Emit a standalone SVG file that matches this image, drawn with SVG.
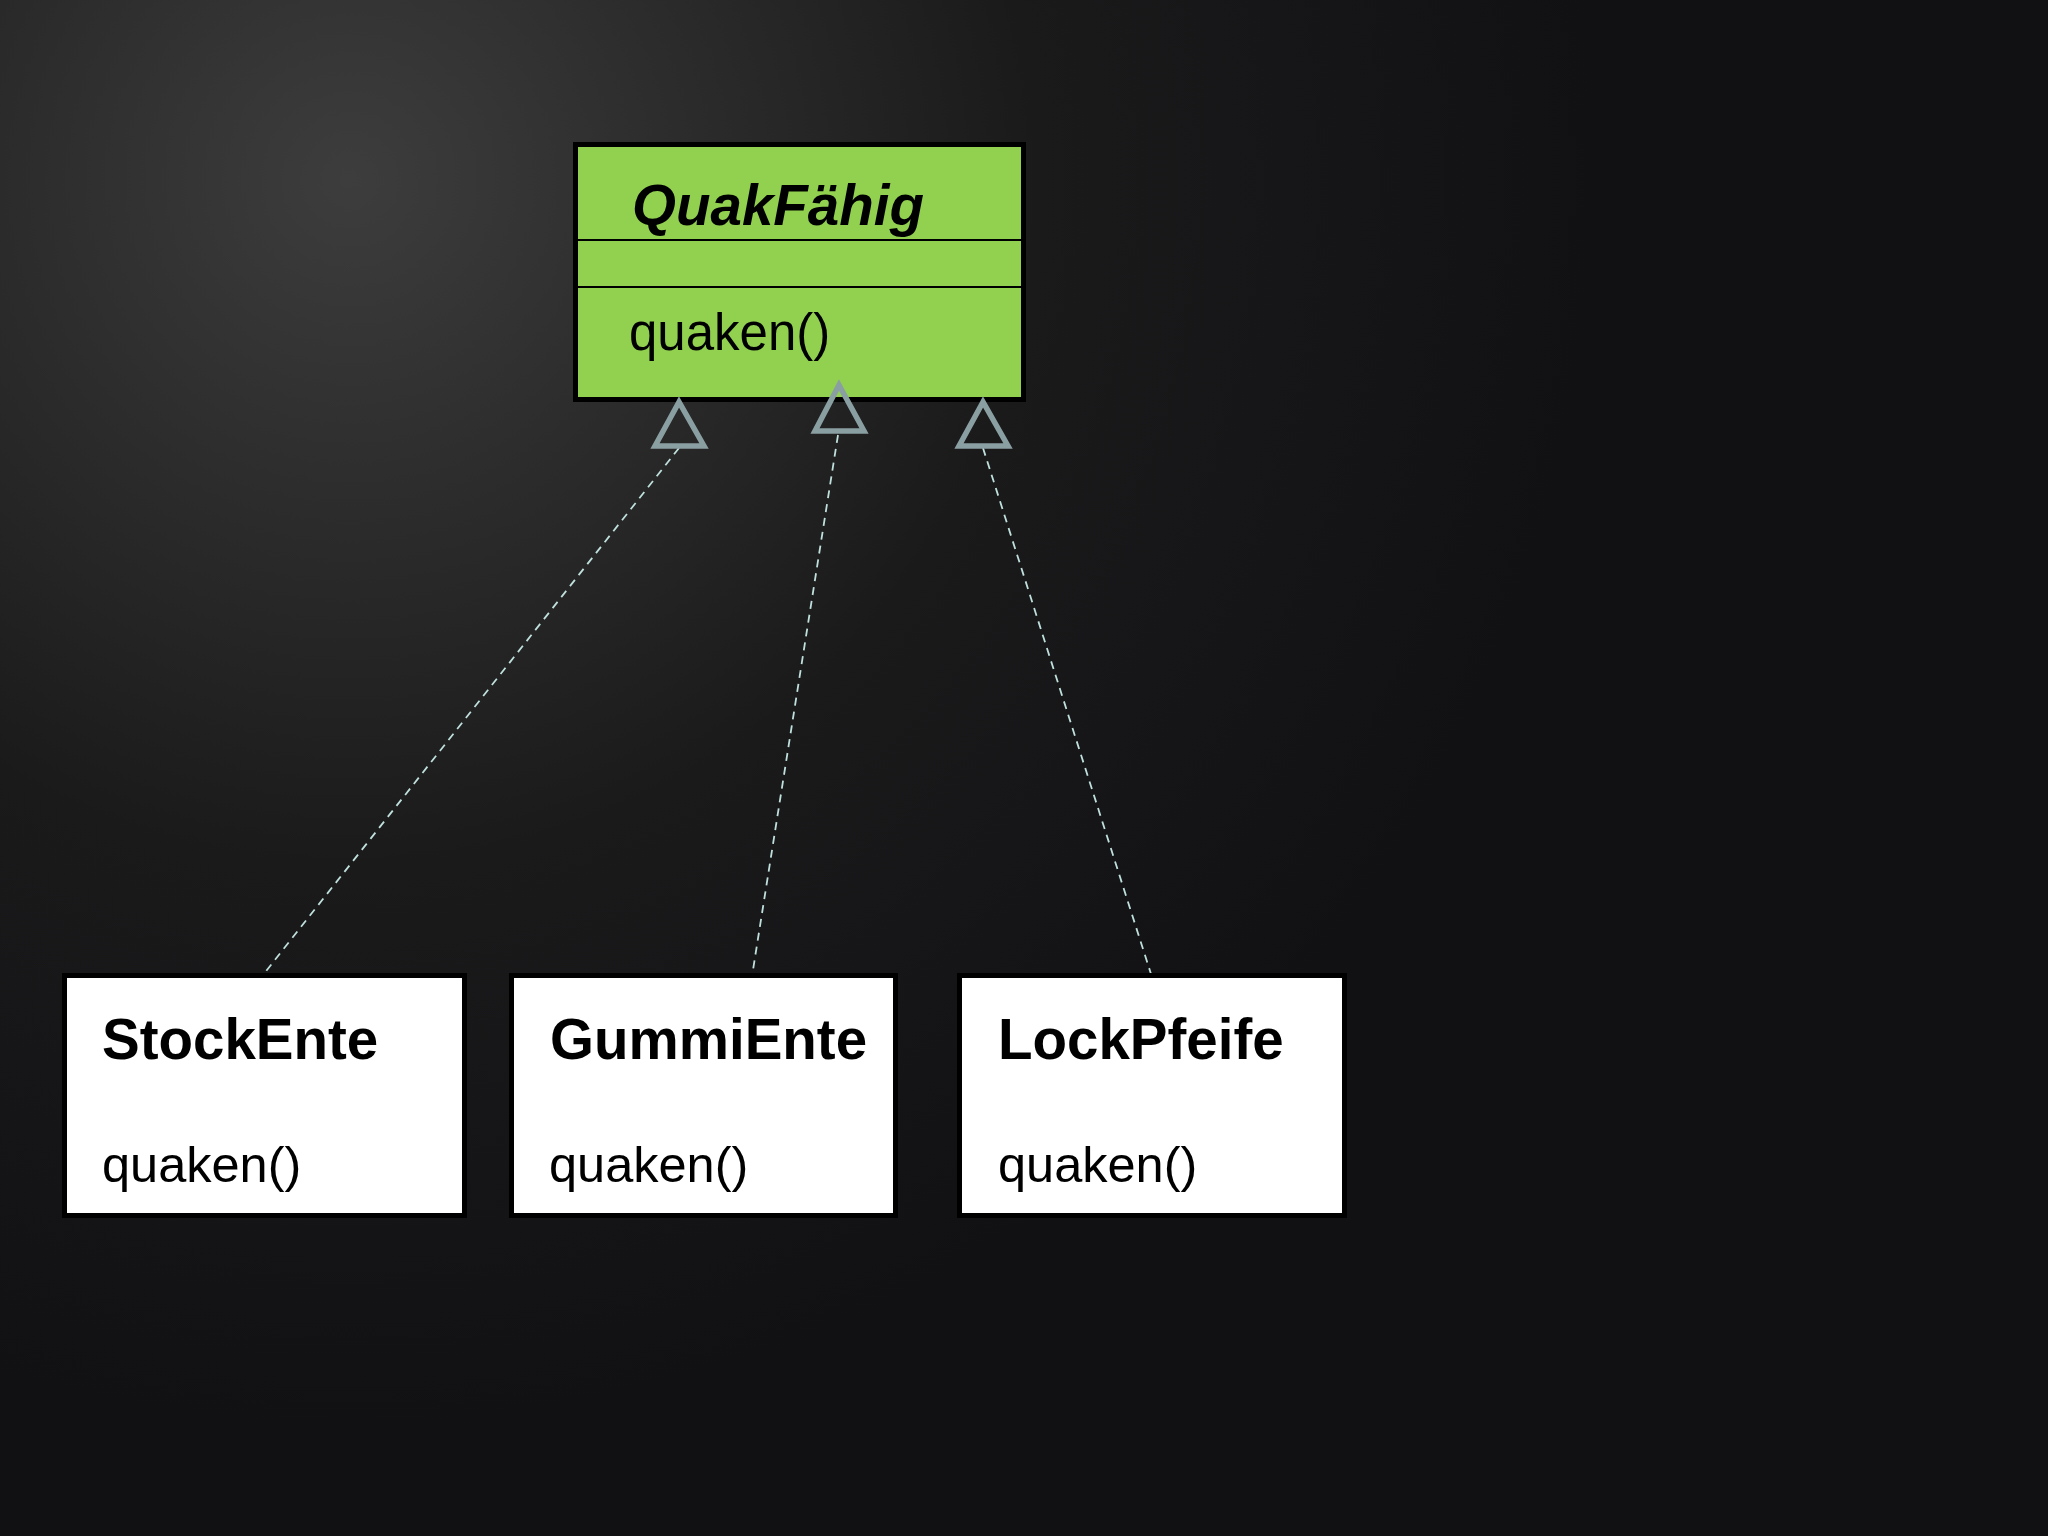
<svg xmlns="http://www.w3.org/2000/svg" width="2048" height="1536" viewBox="0 0 2048 1536">
  <defs>
    <radialGradient id="bg" gradientUnits="userSpaceOnUse" cx="350" cy="180" r="1250">
      <stop offset="0" stop-color="#3d3d3d"/>
      <stop offset="0.25" stop-color="#2d2d2d"/>
      <stop offset="0.55" stop-color="#1a1a1b"/>
      <stop offset="1" stop-color="#111013"/>
    </radialGradient>
  </defs>
  <style>
    .box { stroke: #000; stroke-width: 5; }
    .green { fill: #92d050; }
    .white { fill: #ffffff; }
    .div { stroke: #000; stroke-width: 2; }
    .title { font-family: "Liberation Sans", Arial, sans-serif; font-weight: bold; font-size: 56.5px; fill: #000; }
    .ital { font-style: italic; }
    .op { font-family: "Liberation Sans", Arial, sans-serif; font-size: 50.5px; fill: #000; }
    .dash { stroke: #bfe0dc; stroke-width: 1.8; stroke-dasharray: 8 6; fill: none; }
    .tri { fill: none; stroke: #8a9fa1; stroke-width: 5.5; stroke-linejoin: miter; }
  </style>
  <rect width="2048" height="1536" fill="url(#bg)"/>

  <g id="connectors">
    <line class="dash" x1="679" y1="448" x2="263" y2="975"/>
    <line class="dash" x1="838" y1="435" x2="753" y2="970"/>
    <line class="dash" x1="983" y1="448" x2="1151" y2="974"/>
  </g>

  <g id="QuakFaehig">
    <rect class="box green" x="575.5" y="144.5" width="448" height="255"/>
    <line class="div" x1="578" y1="240" x2="1021" y2="240"/>
    <line class="div" x1="578" y1="287" x2="1021" y2="287"/>
    <text class="title ital" x="632" y="225">QuakFähig</text>
    <text class="op" x="629" y="350" style="font-size:51px">quaken()</text>
  </g>

  <g id="arrowheads">
    <polygon class="tri" points="679,402 655,446 704,446"/>
    <polygon class="tri" points="839,385 815,431 864,431"/>
    <polygon class="tri" points="983,402 959,446 1008,446"/>
  </g>

  <g id="StockEnte">
    <rect class="box white" x="64.5" y="975.5" width="400" height="240"/>
    <text class="title" x="102" y="1059">StockEnte</text>
    <text class="op" x="102" y="1182">quaken()</text>
  </g>

  <g id="GummiEnte">
    <rect class="box white" x="511.5" y="975.5" width="384" height="240"/>
    <text class="title" x="550" y="1059">GummiEnte</text>
    <text class="op" x="549" y="1182">quaken()</text>
  </g>

  <g id="LockPfeife">
    <rect class="box white" x="959.5" y="975.5" width="385" height="240"/>
    <text class="title" x="998" y="1059">LockPfeife</text>
    <text class="op" x="998" y="1182">quaken()</text>
  </g>
</svg>
